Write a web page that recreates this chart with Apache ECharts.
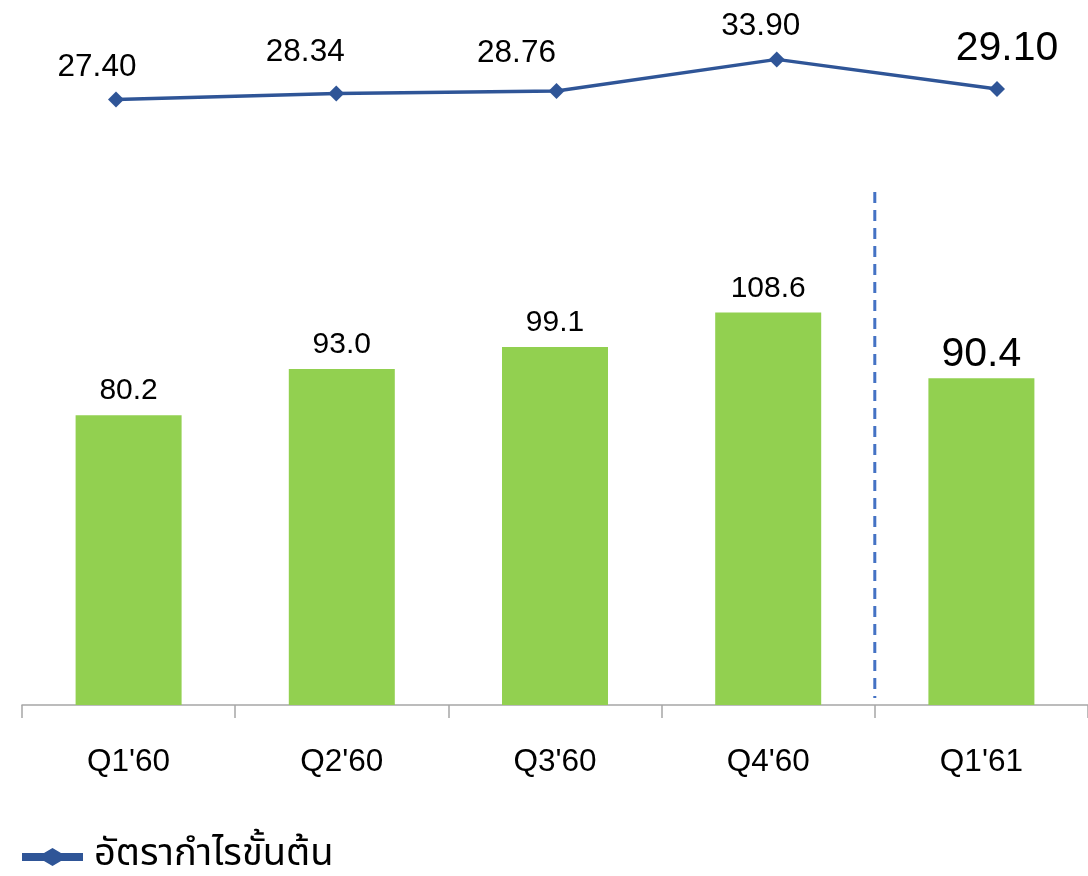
<!DOCTYPE html>
<html>
<head>
<meta charset="utf-8">
<script src="https://cdn.jsdelivr.net/npm/echarts@6/dist/echarts.min.js"></script>
<style>
  html, body { margin: 0; padding: 0; background: #fff; }
  #chart { width: 1088px; height: 876px; }
</style>
</head>
<body>
<div id="chart"></div>
<script>
// ข้อมูล
const quarters = ["Q1'60", "Q2'60", "Q3'60", "Q4'60", "Q1'61"];
const revenue = [80.2, 93.0, 99.1, 108.6, 90.4];
const grossMargin = [27.40, 28.34, 28.76, 33.90, 29.10];
const marginName = 'อัตรากำไรขั้นต้น';

// ตำแหน่งป้ายของเส้น (ขยับเองเหมือนต้นฉบับ)
const marginLabelOffset = [[-19, 0], [-31, -9], [-40, -6], [-16, -1], [10, -1]];

const font = 'Arial, "Liberation Sans", sans-serif';
const lastIdx = quarters.length - 1;

let myChart = echarts.init(document.getElementById('chart'));

myChart.setOption({
    animation: false,
    legend: {
        left: 22,
        top: 838,
        padding: 0,
        itemWidth: 61,
        itemHeight: 18,
        itemGap: 10,
        symbolKeepAspect: false,
        // เส้นหนา + รูปข้าวหลามตัดตรงกลาง
        icon: 'path://M0,5H22L30.5,0L39,5H61V13H39L30.5,18L22,13H0Z',
        itemStyle: { color: '#2F5597' },
        textStyle: { fontSize: 38, color: '#000', fontFamily: '"Noto Sans Thai", Tahoma, sans-serif', padding: [0, 0, 0, 6] },
        data: [marginName]
    },
    grid: [
        { left: 116, right: 91, top: 40, height: 100 },   // เส้น
        { left: 22, right: 0, top: 163, bottom: 171 }     // แท่ง
    ],
    xAxis: [
        { type: 'category', gridIndex: 0, data: quarters, boundaryGap: false, show: false },
        {
            type: 'category', gridIndex: 1, data: quarters,
            axisLine: { lineStyle: { color: '#A6A6A6', width: 1.5 } },
            axisTick: { show: true, length: 13, lineStyle: { color: '#A6A6A6', width: 1.5 } },
            axisLabel: { fontSize: 31.5, color: '#000', fontFamily: font, margin: 41 }
        }
    ],
    yAxis: [
        { type: 'value', gridIndex: 0, min: 20.8, max: 37.05, show: false },
        { type: 'value', gridIndex: 1, min: 0, max: 150, show: false }
    ],
    series: [
        {
            name: 'revenue',
            type: 'bar',
            xAxisIndex: 1,
            yAxisIndex: 1,
            barWidth: 106,
            itemStyle: { color: '#92D050' },
            data: revenue.map((v, i) => ({
                value: v,
                label: i === lastIdx ? { fontSize: 41, distance: 3 } : {}
            })),
            label: {
                show: true,
                position: 'top',
                distance: 9,
                fontSize: 30,
                color: '#000',
                fontFamily: font,
                formatter: p => p.value.toFixed(1)
            }
        },
        {
            name: marginName,
            type: 'line',
            xAxisIndex: 0,
            yAxisIndex: 0,
            symbol: 'diamond',
            symbolSize: 16,
            lineStyle: { color: '#2F5597', width: 3.5 },
            itemStyle: { color: '#2F5597' },
            data: grossMargin.map((v, i) => ({
                value: v,
                label: i === lastIdx
                    ? { fontSize: 41, distance: 11, offset: marginLabelOffset[i] }
                    : { offset: marginLabelOffset[i] }
            })),
            label: {
                show: true,
                position: 'top',
                distance: 8,
                fontSize: 31.5,
                color: '#000',
                fontFamily: font,
                formatter: p => p.value.toFixed(2)
            }
        }
    ]
});

// เส้นประคั่นระหว่าง Q4'60 กับ Q1'61
const x3 = myChart.convertToPixel({ xAxisIndex: 1 }, quarters[3]);
const x4 = myChart.convertToPixel({ xAxisIndex: 1 }, quarters[4]);
const xSep = (x3 + x4) / 2;
myChart.setOption({
    graphic: [{
        type: 'line',
        shape: { x1: xSep, y1: 192, x2: xSep, y2: 698 },
        style: { stroke: '#4472C4', lineWidth: 3, lineDash: [11, 7] },
        z: 10
    }]
});
</script>
</body>
</html>
